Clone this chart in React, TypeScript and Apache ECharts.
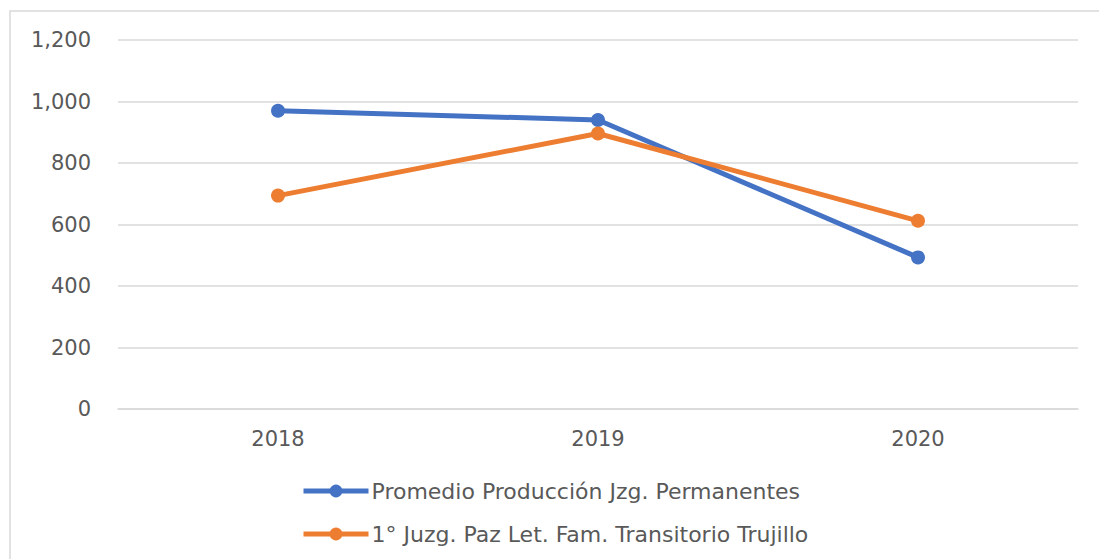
import React, { useEffect, useRef } from "react";
import * as echarts from "echarts";

const categories = ["2018", "2019", "2020"];
const seriesNames = [
  "Promedio Producción Jzg. Permanentes",
  "1° Juzg. Paz Let. Fam. Transitorio Trujillo",
];
const promedioValues = [970, 940, 493];
const transitorioValues = [694, 896, 612];
const yMin = 0;
const yMax = 1200;
const yInterval = 200;

const FONT = "'DejaVu Sans', 'Open Sans', sans-serif";
const TEXT_COLOR = "#595959";

export default function App() {
  const ref = useRef<HTMLDivElement>(null);

  useEffect(() => {
    if (!ref.current) return;
    const chart = echarts.init(ref.current, null, { renderer: "svg" });
    chart.setOption({
      animation: false,
      backgroundColor: "#ffffff",
      textStyle: { fontFamily: FONT },
      graphic: [
        {
          type: "rect",
          shape: { x: 10, y: 11, width: 1110, height: 600 },
          style: { fill: "none", stroke: "#D9D9D9", lineWidth: 1.5 },
          silent: true,
        },
      ],
      grid: { left: 118, right: 21, top: 40, bottom: 150, containLabel: false },
      xAxis: {
        type: "category",
        data: categories,
        boundaryGap: true,
        axisLine: { show: true, lineStyle: { color: "#D9D9D9", width: 1.5 } },
        axisTick: { show: false },
        axisLabel: {
          color: TEXT_COLOR,
          fontSize: 21,
          fontFamily: FONT,
          margin: 19,
        },
      },
      yAxis: {
        type: "value",
        min: yMin,
        max: yMax,
        interval: yInterval,
        axisLine: { show: false },
        axisTick: { show: false },
        splitLine: { lineStyle: { color: "#D9D9D9", width: 1.5 } },
        axisLabel: {
          color: TEXT_COLOR,
          fontSize: 21,
          fontFamily: FONT,
          margin: 27,
          formatter: (v: number) => v.toLocaleString("en-US"),
        },
      },
      legend: {
        orient: "vertical",
        left: 296,
        top: 475,
        itemWidth: 65,
        itemHeight: 16,
        itemGap: 21,
        lineStyle: { width: 5 },
        textStyle: { color: TEXT_COLOR, fontSize: 22, fontFamily: FONT, padding: [0, 0, 0, -2] },
        data: seriesNames,
      },
      series: [
        {
          name: seriesNames[0],
          type: "line",
          data: promedioValues,
          symbol: "circle",
          symbolSize: 14,
          lineStyle: { color: "#4472C4", width: 5 },
          itemStyle: { color: "#4472C4" },
        },
        {
          name: seriesNames[1],
          type: "line",
          data: transitorioValues,
          symbol: "circle",
          symbolSize: 14,
          lineStyle: { color: "#ED7D31", width: 5 },
          itemStyle: { color: "#ED7D31" },
        },
      ],
    });
    return () => chart.dispose();
  }, []);

  return (
    <div
      ref={ref}
      style={{ position: "fixed", left: 0, top: 0, width: 1099, height: 559 }}
    />
  );
}
